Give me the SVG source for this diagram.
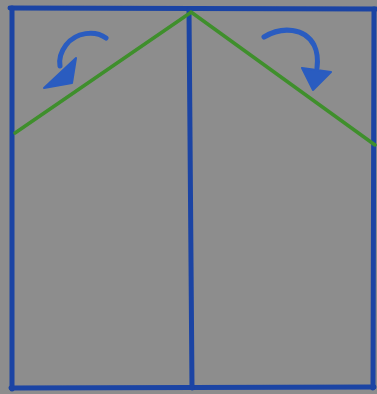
<svg xmlns="http://www.w3.org/2000/svg" width="377" height="394" viewBox="0 0 377 394">
<style>
.edge{stroke:#1b44a4;stroke-width:5;fill:none;stroke-linecap:round}
.fold{stroke:#3f8f2c;stroke-width:3.5;fill:none;stroke-linecap:round}
.arc{stroke:#2a5cc0;stroke-width:5;fill:none;stroke-linecap:round}
.head{fill:#2a5cc0;stroke:#2a5cc0;stroke-width:2;stroke-linejoin:round}
</style>
<rect width="377" height="394" fill="#8d8d8d"/>
<g id="paper">
<path class="edge" d="M10 8 L376 9"/>
<path class="edge" d="M12 8 L12 389"/>
<path class="edge" d="M11 388 L374 387"/>
<path class="edge" d="M374 9 L373 388"/>
<path class="edge" d="M189 10 L192 388"/>
</g>
<g id="folds">
<path class="fold" d="M15 133 L190 13"/>
<path class="fold" d="M191 12 L375 145"/>
</g>
<g id="arrows">
<path class="arc" d="M106 38 C95 30 76 32 66 45 C60 53 59 60 60 66"/>
<polygon class="head" points="44,88 76,58 72,83"/>
<path class="arc" d="M264 37 C282 26 305 28 314 45 C318 53 318 60 317 68"/>
<polygon class="head" points="302,68 331,72 313,90"/>
</g>
</svg>
